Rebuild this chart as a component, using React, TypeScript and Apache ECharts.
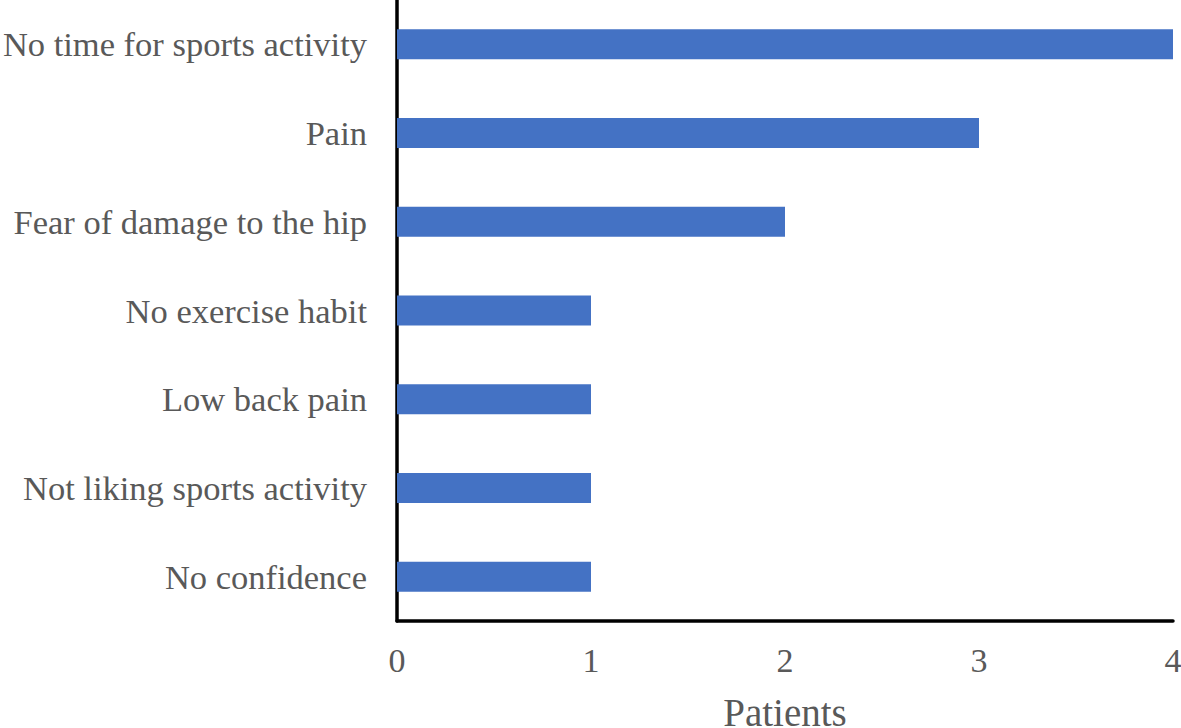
import React, { useEffect, useRef } from "react";
import * as echarts from "echarts";

const categories = [
  "No time for sports activity",
  "Pain",
  "Fear of damage to the hip",
  "No exercise habit",
  "Low back pain",
  "Not liking sports activity",
  "No confidence",
];
const patients = [4, 3, 2, 1, 1, 1, 1];
const xTicks = { min: 0, max: 4, interval: 1 };
const xName = "Patients";

const FONT = "'Liberation Serif', 'Times New Roman', serif";

export default function App() {
  const ref = useRef<HTMLDivElement>(null);
  useEffect(() => {
    if (!ref.current) return;
    const chart = echarts.init(ref.current, null, { renderer: "svg" });
    chart.setOption({
      animation: false,
      backgroundColor: "#ffffff",
      grid: {
        left: 397,
        right: 8,
        top: 0,
        bottom: 107,
        containLabel: false,
        outerBoundsMode: "none",
      },
      xAxis: {
        type: "value",
        min: xTicks.min,
        max: xTicks.max,
        interval: xTicks.interval,
        name: xName,
        nameLocation: "middle",
        nameGap: 72,
        nameTextStyle: { fontFamily: FONT, fontSize: 39, color: "#595959" },
        axisLine: { show: true, lineStyle: { color: "#000000", width: 3.5 } },
        axisTick: { show: false },
        splitLine: { show: false },
        axisLabel: { fontFamily: FONT, fontSize: 34, color: "#595959", margin: 22 },
      },
      yAxis: {
        type: "category",
        data: categories,
        inverse: true,
        axisLine: { show: true, lineStyle: { color: "#000000", width: 3.5 } },
        axisTick: { show: false },
        axisLabel: { fontFamily: FONT, fontSize: 34.5, color: "#595959", margin: 30 },
      },
      series: [
        {
          type: "bar",
          data: patients,
          barWidth: 30,
          itemStyle: { color: "#4472C4" },
        },
      ],
    });
    return () => chart.dispose();
  }, []);
  return (
    <div
      ref={ref}
      style={{ position: "absolute", left: 0, top: 0, width: 1181, height: 728 }}
    />
  );
}
